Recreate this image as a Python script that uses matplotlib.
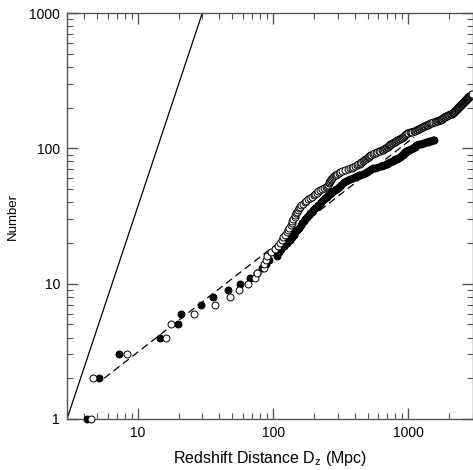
import matplotlib
matplotlib.use("Agg")
import matplotlib.pyplot as plt
import numpy as np

plt.rcParams['font.family'] = ['Liberation Sans', 'DejaVu Sans']

# redshift distance (Mpc) of each successive object
# filled circles: N = 1, 2, 3, ...
filled_d = [4.2, 5.2, 7.3, 14.6, 19.8, 20.8, 29.5, 35.7, 46.8, 57,
            67, 76, 83, 89, 94, 106, 110, 115, 121, 127,
            133, 138, 142, 146, 151, 155, 160, 164, 168, 173,
            177, 183, 188, 193, 198, 204, 210, 216, 222, 226,
            230, 236, 242, 249, 256, 262, 268, 276, 285, 293,
            300, 306, 313, 320, 326, 333, 345, 358, 372, 390,
            405, 418, 430, 442, 460, 475, 490, 505, 517, 530,
            545, 562, 600, 640, 665, 680, 695, 710, 730, 750,
            765, 780, 800, 820, 840, 860, 872, 884, 895, 905,
            915, 928, 940, 950, 960, 970, 985, 1010, 1040, 1076,
            1090, 1105, 1118, 1130, 1140, 1155, 1190, 1230, 1274, 1310,
            1356, 1390, 1430, 1470, 1510, 1550]

# open circles: N = 1, 2, 3, ...
open_d = [4.5, 4.7, 8.3, 16.1, 17.5, 26, 37.5, 48.3, 55.6, 65.8,
          73.8, 76, 85, 86, 89, 90, 97, 104, 108, 112,
          116, 119, 123, 126, 129, 132, 135, 137, 139, 141,
          144, 146, 148, 150, 153, 156, 158, 162, 166, 171,
          176, 182, 188, 194, 200, 205, 211, 216, 222, 230,
          239, 248, 251, 254, 257, 260, 263, 267, 270, 273,
          277, 280, 286, 292, 298, 305, 311, 325, 340, 355,
          370, 380, 392, 403, 414, 425, 436, 443, 450, 458,
          465, 473, 480, 488, 495, 502, 507, 512, 517, 530,
          545, 560, 575, 590, 605, 620, 635, 648, 660, 672,
          684, 695, 705, 713, 720, 727, 734, 742, 755, 768,
          780, 792, 803, 814, 825, 840, 855, 870, 885, 897,
          908, 915, 922, 930, 938, 945, 953, 961, 980, 1000,
          1020, 1045, 1070, 1095, 1118, 1140, 1155, 1172, 1188, 1205,
          1222, 1240, 1258, 1276, 1294, 1312, 1330, 1350, 1370, 1390,
          1410, 1430, 1450, 1475, 1500, 1530, 1560, 1590, 1620, 1650,
          1680, 1710, 1739, 1750, 1762, 1774, 1786, 1805, 1825, 1845,
          1865, 1885, 1905, 1925, 1950, 1975, 2000, 2030, 2060, 2090,
          2117, 2128, 2140, 2152, 2163, 2175, 2186, 2198, 2209, 2220,
          2232, 2243, 2255, 2266, 2278, 2289, 2300, 2312, 2323, 2335,
          2346, 2358, 2369, 2380, 2392, 2403, 2415, 2426, 2438, 2449,
          2460, 2472, 2483, 2495, 2507, 2518, 2529, 2541, 2552, 2563,
          2574, 2586, 2597, 2608, 2619, 2630, 2642, 2653, 2664, 2675,
          2686, 2698, 2709, 2720, 2731, 2742, 2754, 2765, 2776, 2787,
          2798, 2810, 2828, 2846, 2864, 2882, 2900, 2918, 2936, 2954]

# reference lines (end points)
solid_x = [3, 30]
solid_y = [1, 1000]
dash_x = [5.65, 1100]
dash_y = [2.0, 121]

filled_n = np.arange(1, len(filled_d) + 1)
open_n = np.arange(1, len(open_d) + 1)

fig = plt.figure(figsize=(4.73, 4.70), dpi=100)
ax = fig.add_axes([67/473, 1 - 419/470, 406/473, 406/470])

ax.plot(solid_x, solid_y, color='black', lw=0.9, zorder=2)
ax.plot(dash_x, dash_y, color='black', lw=0.9, dashes=(6, 3.5), zorder=2)

ax.plot(filled_d, filled_n, 'o', ms=5, mfc='black', mec='black', mew=0.7,
        zorder=3, clip_on=False)
ax.plot(open_d, open_n, 'o', ms=5, mfc='white', mec='black', mew=0.7,
        zorder=4, clip_on=False)

ax.set_xscale('log')
ax.set_yscale('log')
ax.set_xlim(3, 3000)
ax.set_ylim(1, 1000)

ax.set_xticks([10, 100, 1000])
ax.set_xticklabels(['10', '100', '1000'])
ax.set_yticks([1, 10, 100, 1000])
ax.set_yticklabels(['1', '10', '100', '1000'])

spine_c = '#555555'
for s in ax.spines.values():
    s.set_color(spine_c)
    s.set_linewidth(1.0)
ax.tick_params(which='both', direction='in', top=True, right=True,
               color=spine_c, labelsize=10, pad=5)
ax.tick_params(which='major', length=8, width=1.0)
ax.tick_params(which='minor', length=4, width=0.8)

fig.text(270/473, 1 - 459/470, r'Redshift Distance D$_\mathregular{z}$ (Mpc)',
         fontsize=11.5, ha='center', va='center')
fig.text(13/473, 1 - 216/470, 'Number', fontsize=9.5, rotation=90,
         ha='center', va='center')

fig.savefig('out.png', dpi=100)
